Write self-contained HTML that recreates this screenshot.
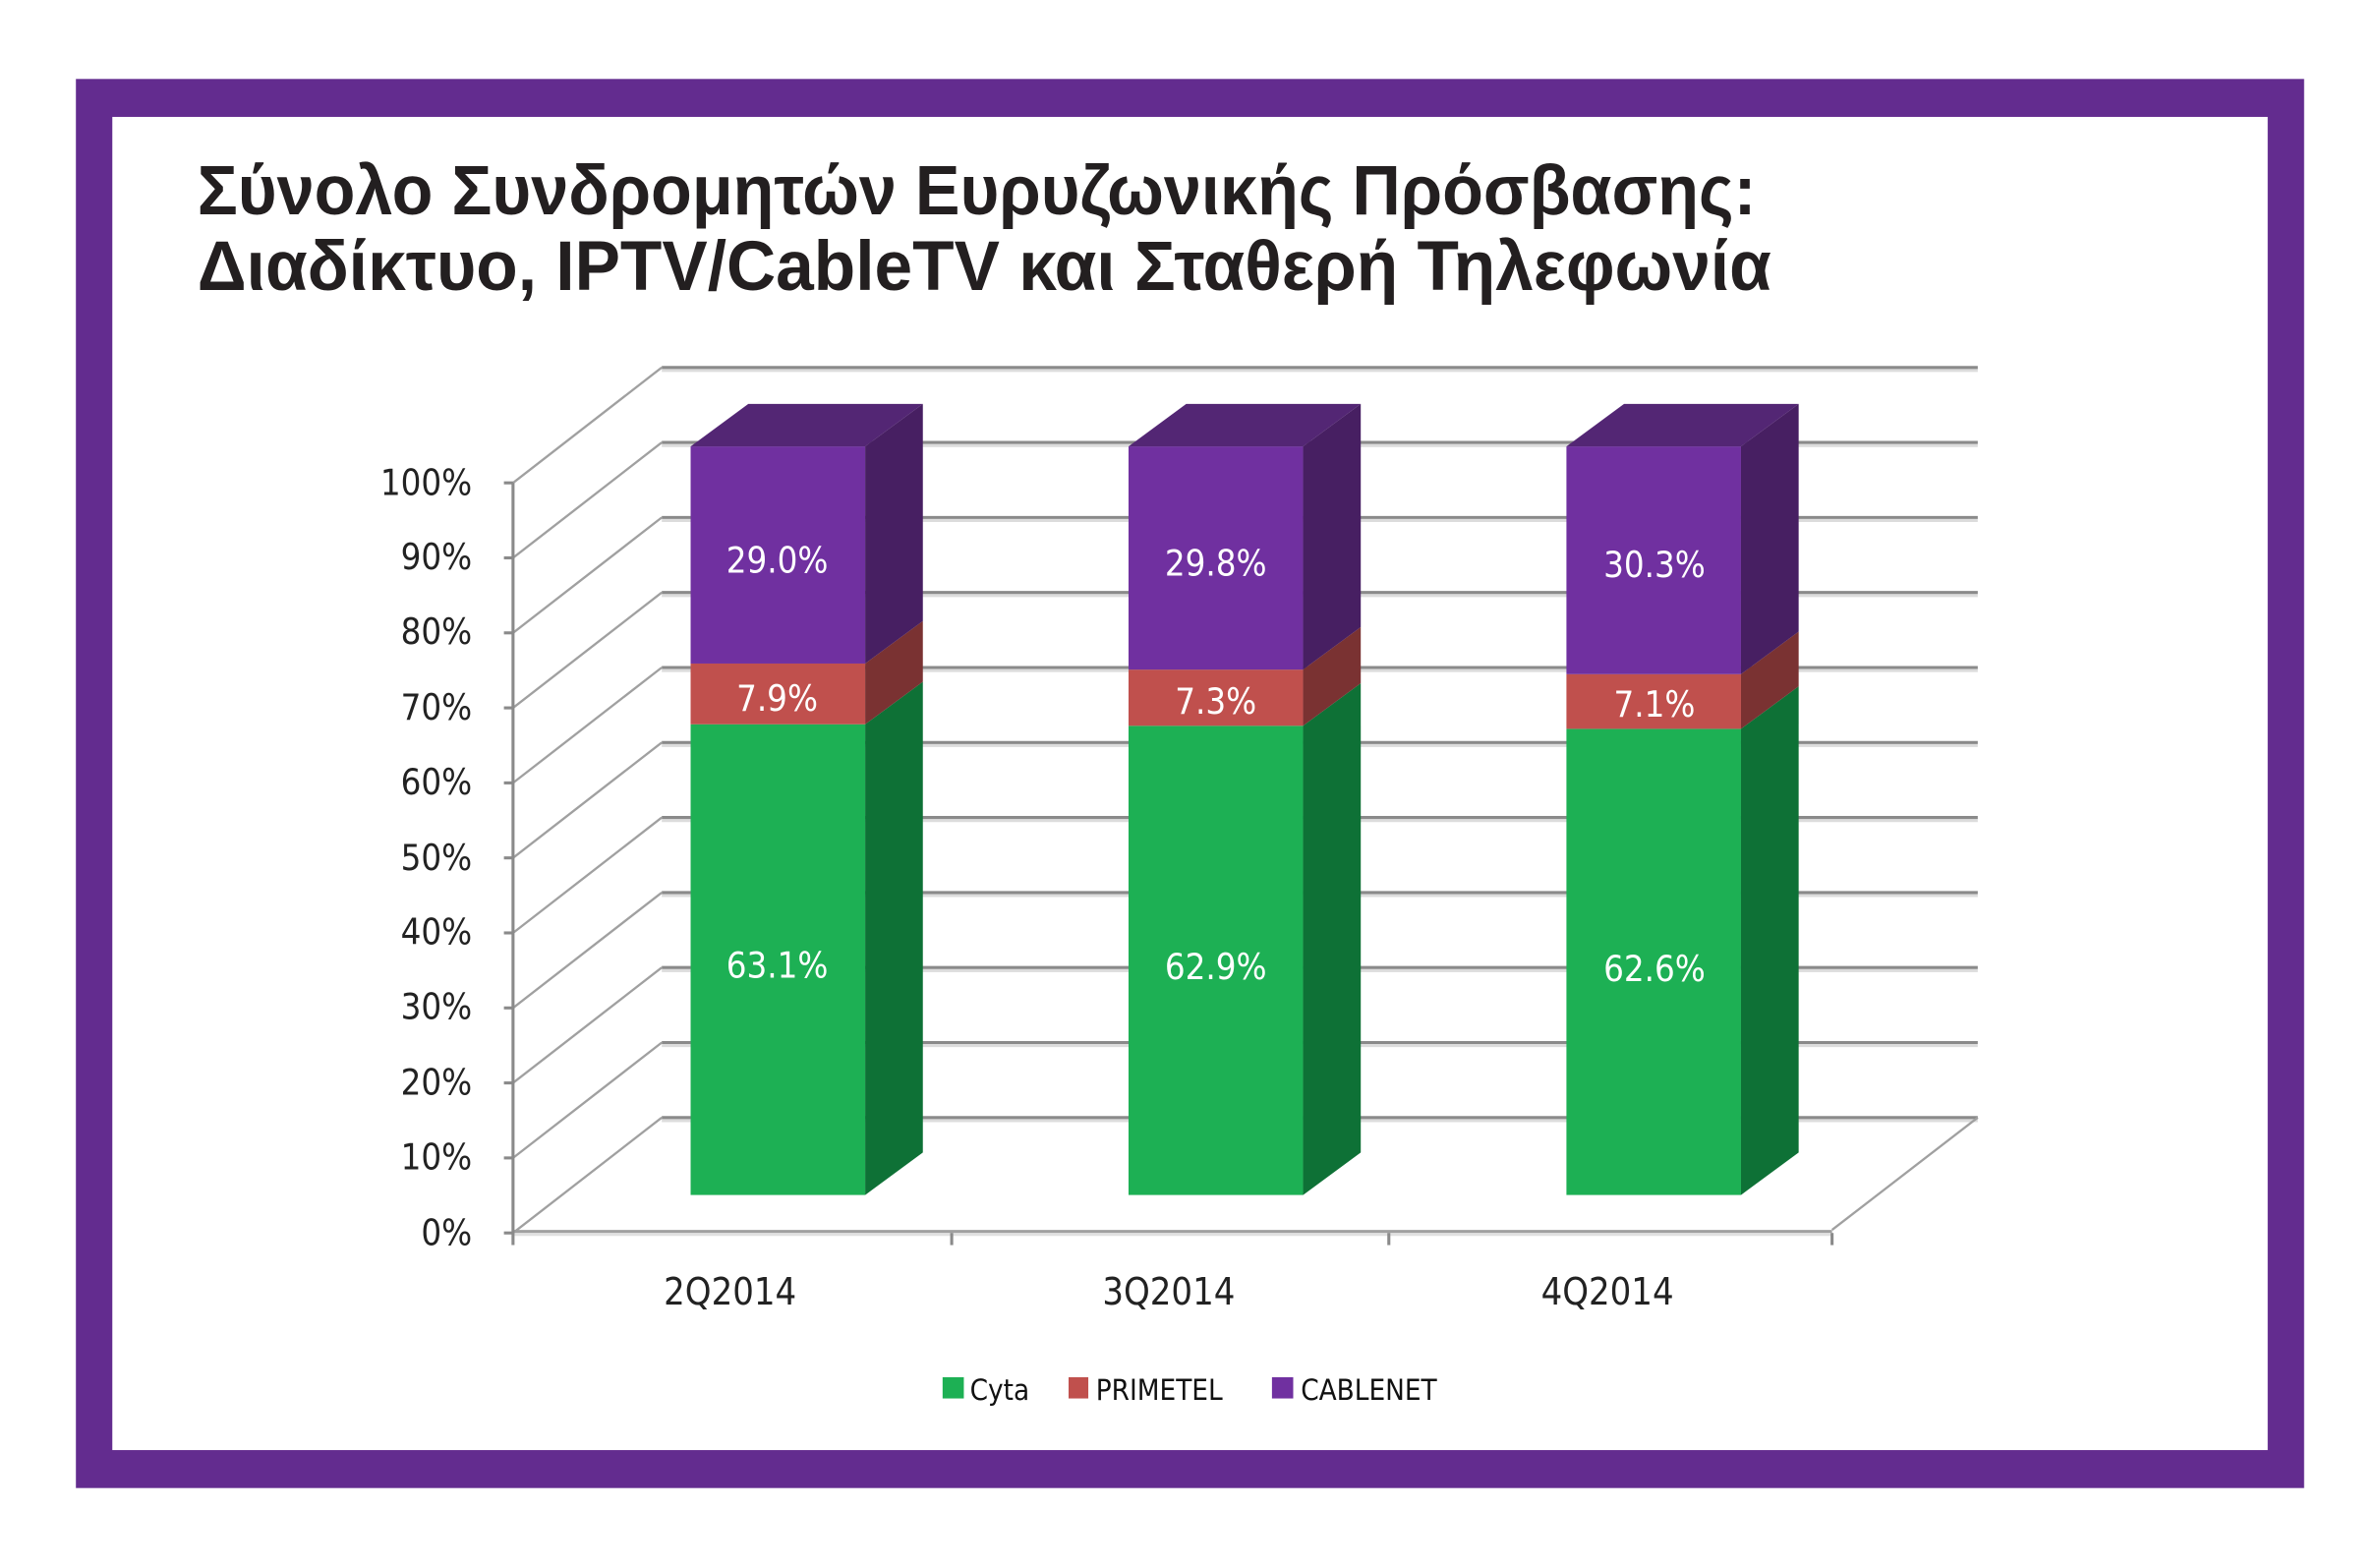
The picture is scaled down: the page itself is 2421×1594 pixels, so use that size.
<!DOCTYPE html>
<html><head><meta charset="utf-8"><style>
html,body{margin:0;padding:0;background:#fff;}
svg{display:block;}
</style></head><body>
<svg width="2421" height="1594" viewBox="0 0 1568 1032" preserveAspectRatio="none" xmlns="http://www.w3.org/2000/svg">
<rect x="0" y="0" width="1568" height="1032" fill="#fff"/>
<rect x="50" y="52" width="1468" height="928" fill="#632C8F"/>
<rect x="74" y="77" width="1420" height="878" fill="#fff"/>
<g font-family="Liberation Sans, DejaVu Sans, sans-serif" font-weight="bold" fill="#231F20" font-size="46">
<text x="130" y="141" textLength="1027" lengthAdjust="spacingAndGlyphs">Σύνολο Συνδρομητών Ευρυζωνικής Πρόσβασης:</text>
<text x="130" y="191" textLength="1037" lengthAdjust="spacingAndGlyphs">Διαδίκτυο, IPTV/CableTV και Σταθερή Τηλεφωνία</text>
</g>
<g stroke-width="2">
<g stroke="#dcdcdc" transform="translate(0,2)">
<line x1="436" y1="242" x2="1303" y2="242"/><line x1="436" y1="291.4" x2="1303" y2="291.4"/><line x1="436" y1="340.8" x2="1303" y2="340.8"/><line x1="436" y1="390.2" x2="1303" y2="390.2"/><line x1="436" y1="439.6" x2="1303" y2="439.6"/><line x1="436" y1="489" x2="1303" y2="489"/><line x1="436" y1="538.4" x2="1303" y2="538.4"/><line x1="436" y1="587.8" x2="1303" y2="587.8"/><line x1="436" y1="637.2" x2="1303" y2="637.2"/><line x1="436" y1="686.6" x2="1303" y2="686.6"/><line x1="436" y1="736" x2="1303" y2="736"/>
</g>
<g stroke="#8a8a8a">
<line x1="436" y1="242" x2="1303" y2="242"/><line x1="436" y1="291.4" x2="1303" y2="291.4"/><line x1="436" y1="340.8" x2="1303" y2="340.8"/><line x1="436" y1="390.2" x2="1303" y2="390.2"/><line x1="436" y1="439.6" x2="1303" y2="439.6"/><line x1="436" y1="489" x2="1303" y2="489"/><line x1="436" y1="538.4" x2="1303" y2="538.4"/><line x1="436" y1="587.8" x2="1303" y2="587.8"/><line x1="436" y1="637.2" x2="1303" y2="637.2"/><line x1="436" y1="686.6" x2="1303" y2="686.6"/><line x1="436" y1="736" x2="1303" y2="736"/>
</g>
<g stroke="#a0a0a0" stroke-width="1.5">
<line x1="338" y1="318" x2="436" y2="242"/><line x1="338" y1="367.4" x2="436" y2="291.4"/><line x1="338" y1="416.8" x2="436" y2="340.8"/><line x1="338" y1="466.2" x2="436" y2="390.2"/><line x1="338" y1="515.6" x2="436" y2="439.6"/><line x1="338" y1="565" x2="436" y2="489"/><line x1="338" y1="614.4" x2="436" y2="538.4"/><line x1="338" y1="663.8" x2="436" y2="587.8"/><line x1="338" y1="713.2" x2="436" y2="637.2"/><line x1="338" y1="762.6" x2="436" y2="686.6"/><line x1="338" y1="812" x2="436" y2="736"/>
<line x1="1207" y1="810" x2="1303" y2="736"/>
</g>
<line x1="338" y1="811" x2="1207" y2="811" stroke="#a0a0a0"/>
<line x1="338" y1="813" x2="1207" y2="813" stroke="#e0e0e0"/>
<line x1="338" y1="318" x2="338" y2="820" stroke="#8a8a8a"/>
<g stroke="#8a8a8a">
<line x1="332" y1="318" x2="338" y2="318"/><line x1="332" y1="367.4" x2="338" y2="367.4"/><line x1="332" y1="416.8" x2="338" y2="416.8"/><line x1="332" y1="466.2" x2="338" y2="466.2"/><line x1="332" y1="515.6" x2="338" y2="515.6"/><line x1="332" y1="565" x2="338" y2="565"/><line x1="332" y1="614.4" x2="338" y2="614.4"/><line x1="332" y1="663.8" x2="338" y2="663.8"/><line x1="332" y1="713.2" x2="338" y2="713.2"/><line x1="332" y1="762.6" x2="338" y2="762.6"/><line x1="332" y1="812" x2="338" y2="812"/>
<line x1="627" y1="812" x2="627" y2="820"/><line x1="915" y1="812" x2="915" y2="820"/><line x1="1207" y1="812" x2="1207" y2="820"/>
</g>
</g>
<g>
<rect x="455" y="477" width="115" height="310" fill="#1DB054"/>
<polygon points="570,477 608,449 608,759 570,787" fill="#0E7136"/>
<rect x="455" y="437" width="115" height="40" fill="#C0504D"/>
<polygon points="570,437 608,409 608,449 570,477" fill="#7A3232"/>
<rect x="455" y="294" width="115" height="143" fill="#7030A0"/>
<polygon points="570,294 608,266 608,409 570,437" fill="#471F62"/>
<polygon points="455,294 493,266 608,266 570,294" fill="#532674"/>
</g>
<g transform="translate(288.5,0)">
<rect x="455" y="478" width="115" height="309" fill="#1DB054"/>
<polygon points="570,478 608,450 608,759 570,787" fill="#0E7136"/>
<rect x="455" y="441" width="115" height="37" fill="#C0504D"/>
<polygon points="570,441 608,413 608,450 570,478" fill="#7A3232"/>
<rect x="455" y="294" width="115" height="147" fill="#7030A0"/>
<polygon points="570,294 608,266 608,413 570,441" fill="#471F62"/>
<polygon points="455,294 493,266 608,266 570,294" fill="#532674"/>
</g>
<g transform="translate(577,0)">
<rect x="455" y="480" width="115" height="307" fill="#1DB054"/>
<polygon points="570,480 608,452 608,759 570,787" fill="#0E7136"/>
<rect x="455" y="444" width="115" height="36" fill="#C0504D"/>
<polygon points="570,444 608,416 608,452 570,480" fill="#7A3232"/>
<rect x="455" y="294" width="115" height="150" fill="#7030A0"/>
<polygon points="570,294 608,266 608,416 570,444" fill="#471F62"/>
<polygon points="455,294 493,266 608,266 570,294" fill="#532674"/>
</g>
<g font-family="DejaVu Sans Condensed, Liberation Sans, sans-serif" font-size="23.5" fill="#fff" text-anchor="middle">
<text x="512" y="377">29.0%</text><text x="512" y="468">7.9%</text><text x="512" y="644">63.1%</text>
<text x="801" y="379">29.8%</text><text x="801" y="470">7.3%</text><text x="801" y="645">62.9%</text>
<text x="1090" y="380">30.3%</text><text x="1090" y="472">7.1%</text><text x="1090" y="646">62.6%</text>
</g>
<g font-family="DejaVu Sans Condensed, Liberation Sans, sans-serif" font-size="23.5" fill="#222" text-anchor="end">
<text x="311" y="326">100%</text><text x="311" y="375">90%</text><text x="311" y="424">80%</text><text x="311" y="474">70%</text><text x="311" y="523">60%</text><text x="311" y="573">50%</text><text x="311" y="622">40%</text><text x="311" y="671">30%</text><text x="311" y="721">20%</text><text x="311" y="770">10%</text><text x="311" y="820">0%</text>
</g>
<g font-family="DejaVu Sans Condensed, Liberation Sans, sans-serif" font-size="24.5" fill="#222" text-anchor="middle">
<text x="481" y="859">2Q2014</text><text x="770" y="859">3Q2014</text><text x="1059" y="859">4Q2014</text>
</g>
<g font-family="DejaVu Sans Condensed, Liberation Sans, sans-serif" font-size="19" fill="#111">
<rect x="621" y="907" width="14" height="14" fill="#1DB054"/><text x="639" y="922">Cyta</text>
<rect x="704" y="907" width="13" height="14" fill="#C0504D"/><text x="722" y="922">PRIMETEL</text>
<rect x="838" y="907" width="14" height="14" fill="#7030A0"/><text x="857" y="922">CABLENET</text>
</g>
</svg>
</body></html>
